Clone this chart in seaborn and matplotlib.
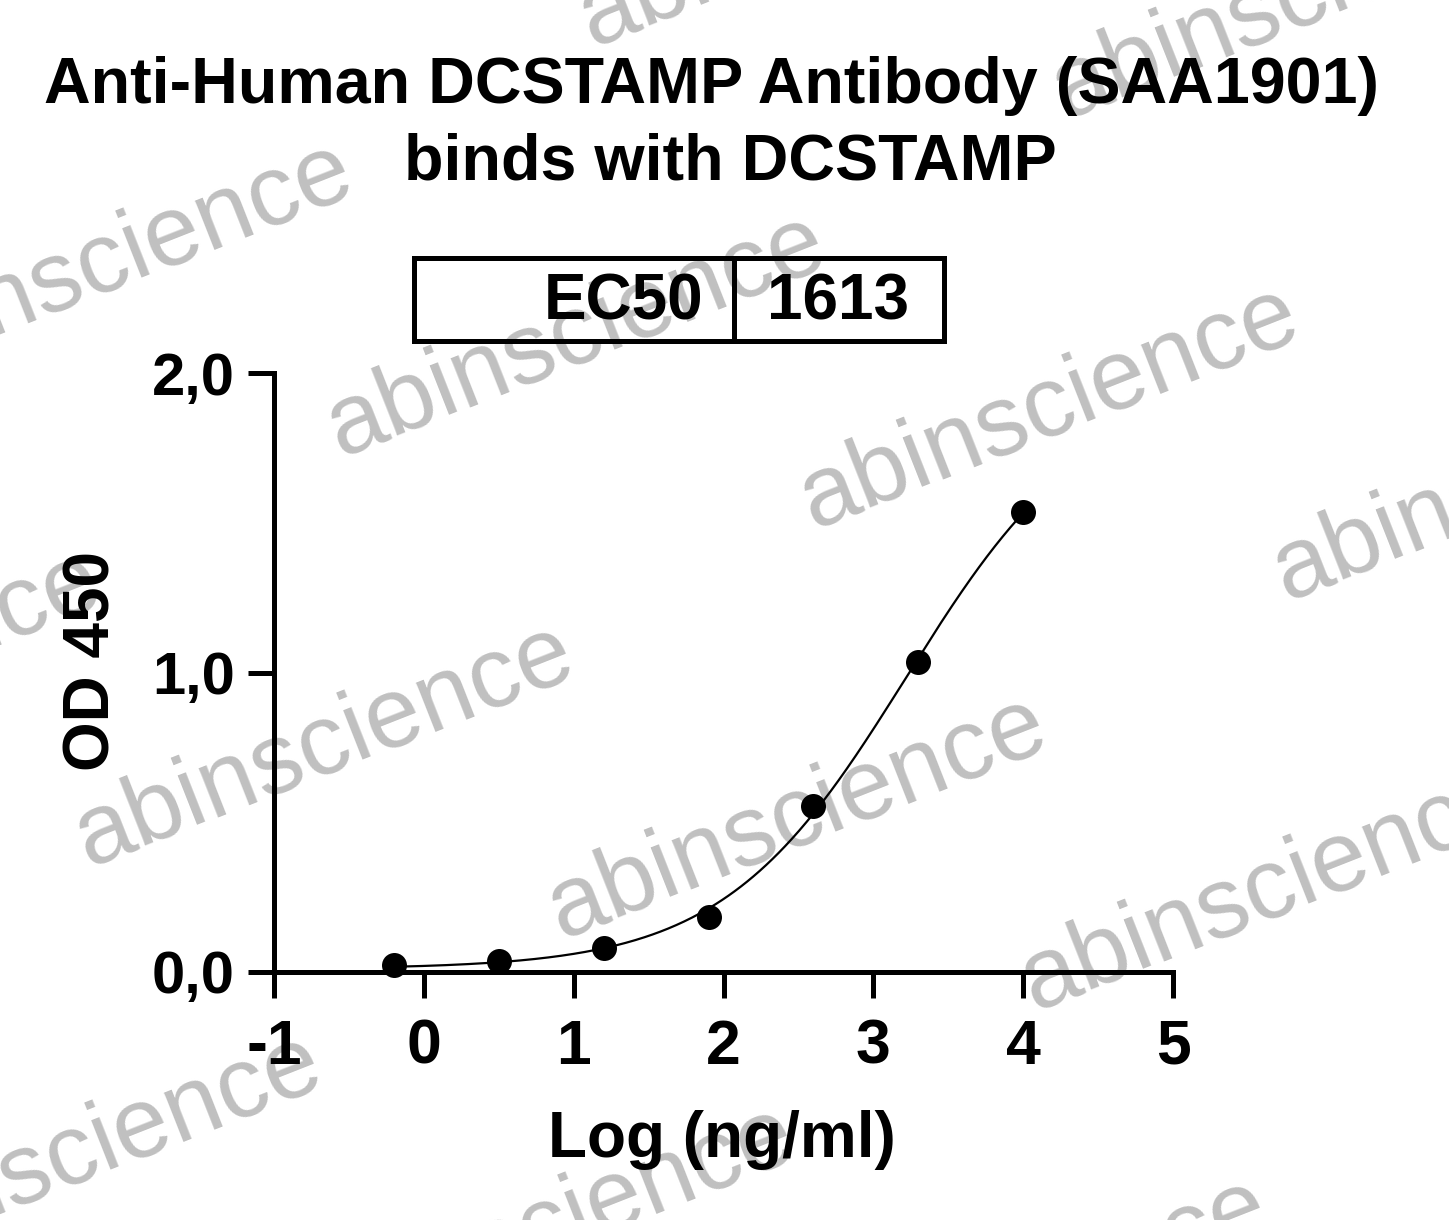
import numpy as np
import pandas as pd
import matplotlib
matplotlib.use("Agg")
import matplotlib.pyplot as plt
import seaborn as sns
from matplotlib.patches import Rectangle

# ---------------- data ----------------
log_conc = [-0.2, 0.5, 1.2, 1.9, 2.6, 3.3, 4.0]
od450 = [0.023, 0.037, 0.080, 0.185, 0.555, 1.035, 1.536]
x_ticks = [-1, 0, 1, 2, 3, 4, 5]
x_tick_labels = ["-1", "0", "1", "2", "3", "4", "5"]
y_ticks = [0.0, 1.0, 2.0]
y_tick_labels = ["0,0", "1,0", "2,0"]
title_lines = ["Anti-Human DCSTAMP Antibody (SAA1901)", "binds with DCSTAMP"]
x_label = "Log (ng/ml)"
y_label = "OD 450"
ec50_label = "EC50"
ec50_value = "1613"
watermark_text = "abinscience"

# ---------------- figure ----------------
W, H = 1449, 1220
sns.set_theme(style="ticks")
plt.rcParams["font.family"] = ["Liberation Sans", "DejaVu Sans"]
plt.rcParams["font.weight"] = "bold"
plt.rcParams["text.color"] = "black"
plt.rcParams["axes.labelcolor"] = "black"
plt.rcParams["xtick.color"] = "black"
plt.rcParams["ytick.color"] = "black"

fig = plt.figure(figsize=(W / 100, H / 100), dpi=100)
fig.patch.set_facecolor("white")

def fx(px):
    return px / W

def fy(py):
    return 1 - py / H

ax = fig.add_axes([fx(274), fy(972), (1173 - 274) / W, (972 - 373) / H])
ax.set_facecolor("none")

# 4-parameter logistic fit of the data (least squares, grid over EC50/slope)
x = np.array(log_conc)
y = np.array(od450)
best = None
for c in np.linspace(2.5, 4.5, 201):
    for h in np.linspace(0.3, 1.5, 121):
        s = 1.0 / (1.0 + 10 ** ((c - x) * h))
        A = np.column_stack([np.ones_like(s), s])
        coef, *_ = np.linalg.lstsq(A, y, rcond=None)
        r = ((A @ coef - y) ** 2).sum()
        if best is None or r < best[0]:
            best = (r, c, h, coef)
_, c_fit, h_fit, (b_fit, a_fit) = best
xs = np.linspace(min(log_conc), max(log_conc), 400)
curve = pd.DataFrame({"x": xs, "y": b_fit + a_fit / (1.0 + 10 ** ((c_fit - xs) * h_fit))})
points = pd.DataFrame({"x": log_conc, "y": od450})

sns.lineplot(data=curve, x="x", y="y", ax=ax, color="black", linewidth=1.6, zorder=3)
sns.scatterplot(data=points, x="x", y="y", ax=ax, color="black", s=18 ** 2,
                edgecolor="black", linewidth=0, zorder=4, clip_on=False)

ax.set_xlim(-1, 5)
ax.set_ylim(0, 2)
ax.set_xticks(x_ticks)
ax.set_xticklabels(x_tick_labels, fontsize=45, fontweight="bold", color="black")
ax.set_yticks(y_ticks)
ax.set_yticklabels(y_tick_labels, fontsize=43, fontweight="bold", color="black")
ax.tick_params(axis="both", direction="out", length=19, width=3.6, color="black")
ax.tick_params(axis="x", pad=14)
ax.tick_params(axis="y", pad=9)
for side in ["top", "right"]:
    ax.spines[side].set_visible(False)
for side in ["left", "bottom"]:
    ax.spines[side].set_linewidth(3.6)
    ax.spines[side].set_color("black")
ax.set_xlabel("")
ax.set_ylabel("")

fig.text(fx(722), fy(1140), x_label, fontsize=46, fontweight="bold",
         ha="center", va="center", color="black")
fig.text(fx(92), fy(661), y_label, fontsize=46, fontweight="bold",
         ha="center", va="center", rotation=90, color="black")

# title
fig.text(fx(712), fy(103), title_lines[0], fontsize=46.5, fontweight="bold",
         ha="center", va="baseline", color="black")
fig.text(fx(730), fy(180), title_lines[1], fontsize=46.5, fontweight="bold",
         ha="center", va="baseline", color="black")

# EC50 box
box_l, box_r, box_t, box_b, box_mid = 414, 944, 258, 341, 734
fig.add_artist(Rectangle((fx(box_l), fy(box_b)), (box_r - box_l) / W, (box_b - box_t) / H,
                         transform=fig.transFigure, fill=False, edgecolor="black",
                         linewidth=3.6))
fig.add_artist(plt.Line2D([fx(box_mid), fx(box_mid)], [fy(box_t), fy(box_b)],
                          transform=fig.transFigure, color="black", linewidth=3.6))
fig.text(fx(703), fy(319), ec50_label, fontsize=46, fontweight="bold",
         ha="right", va="baseline", color="black")
fig.text(fx(767), fy(319), ec50_value, fontsize=46, fontweight="bold",
         ha="left", va="baseline", color="black")

# watermarks
origin = np.array([340.0, 457.0])
va_ = np.array([473.0, 72.0])
vb_ = np.array([-252.0, 410.0])
for i in range(-2, 4):
    for j in range(-2, 4):
        p = origin + i * va_ + j * vb_
        if -700 < p[0] < W + 50 and -50 < p[1] < H + 300:
            fig.text(fx(p[0]), fy(p[1]), watermark_text, fontsize=72,
                     fontweight="normal", color="#c0c0c0", rotation=21.5,
                     rotation_mode="anchor", ha="left", va="baseline", zorder=-1)

fig.savefig("out.png", dpi=100, facecolor="white")
